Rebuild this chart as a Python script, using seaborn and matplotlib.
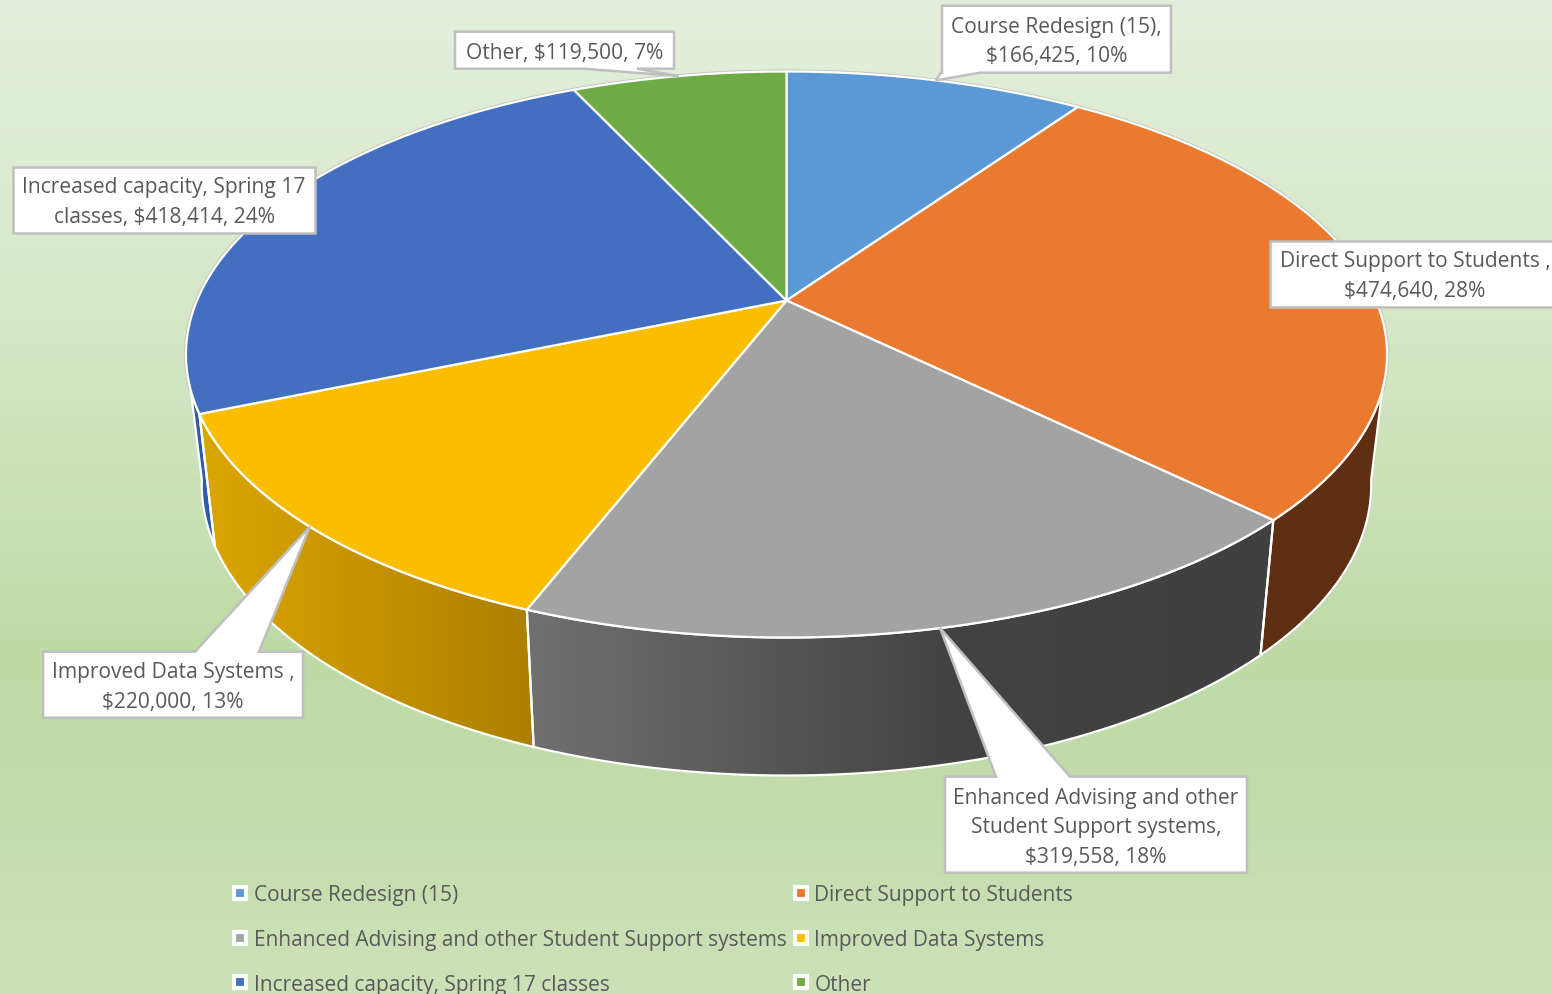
import numpy as np
import pandas as pd
import matplotlib
matplotlib.use("Agg")
import matplotlib.pyplot as plt
import seaborn as sns
from matplotlib.colors import to_rgb
from matplotlib.lines import Line2D
from matplotlib.patches import Polygon

categories = ["Course Redesign (15)", "Direct Support to Students",
              "Enhanced Advising and other Student Support systems",
              "Improved Data Systems", "Increased capacity, Spring 17 classes", "Other"]
amounts = [166425, 474640, 319558, 220000, 418414, 119500]
percents = [10, 28, 18, 13, 24, 7]
slice_colors = ["#5a98d6", "#ea7a2f", "#a3a3a3", "#fbbd00", "#426fc0", "#6eab45"]
label_texts = ["Course Redesign (15),\n$166,425, 10%",
               "Direct Support to Students ,\n$474,640, 28%",
               "Enhanced Advising and other\nStudent Support systems,\n$319,558, 18%",
               "Improved Data Systems ,\n$220,000, 13%",
               "Increased capacity, Spring 17\nclasses, $418,414, 24%",
               "Other, $119,500, 7%"]

# box x0, y0, x1, y1 in pixels, then the foot of the callout on the box edge
label_boxes = [(942, 6.7, 1171, 73.7), (1270, 241.7, 1560, 307.7), (945, 777.7, 1247, 873.7),
               (43, 652.7, 303, 718.7), (13, 167.7, 315, 233.7), (455, 32.7, 674, 69.7)]
label_feet = [(941, 980), None, (996, 1070), (195, 259), None, (584, 637)]

# perspective of the pie disc, fitted to the picture
CX, PERSP = 786.5, 0.1908
TOP = (589.5, 272.7, 301.5)
BOTTOM = (574, 280, 430.5)
# side wall colours from left to right: x stops, colours
wall_stops = {
    1: ([1250, 1390], ["#5e2f11", "#5e2f11"]),
    2: ([528, 950, 1270], ["#707070", "#434343", "#404040"]),
    3: ([200, 535], ["#dca600", "#ad7f00"]),
    4: ([185, 215], ["#2f5ba8", "#2f5ba8"]),
}
bg_y = [0, 250, 450, 650, 800, 995]
bg_colors = ["#e4efdb", "#d9e9cc", "#cde3bb", "#bedba6", "#c2dcab", "#cde1b9"]


def rim(angles, a, b, y0):
    t = np.radians(angles)
    d = 1 + PERSP * np.cos(t)
    return CX + a * np.sin(t) / d, y0 - b * np.cos(t) / d


def ramp(xs, stops, colors):
    rgb = np.array([to_rgb(c) for c in colors])
    return np.stack([np.interp(xs, stops, rgb[:, i]) for i in range(3)], axis=-1)


sns.set_theme(style="white")
plt.rcParams["font.family"] = ["Open Sans", "DejaVu Sans"]
palette = sns.color_palette(slice_colors)

df = pd.DataFrame({"category": categories, "amount": amounts, "percent": percents})
df["end"] = df["amount"].cumsum() / df["amount"].sum() * 360
df["start"] = df["end"].shift(fill_value=0)
df["mid"] = (df["start"] + df["end"]) / 2

fig = plt.figure(figsize=(15.52, 9.95), dpi=100)
ax = fig.add_axes([0, 0, 1, 1])
ax.axis("off")

# background
ys = np.arange(995)
ax.imshow(ramp(ys, bg_y, bg_colors)[:, None, :], extent=(0, 1552, 995, 0), aspect="auto", zorder=0)

# side walls, only the front part shows
for i, row in df.iterrows():
    if i not in wall_stops:
        continue
    top_a = np.linspace(max(row["start"], 108), min(row["end"], 252), 80)
    bot_a = np.linspace(max(row["start"], 100), min(row["end"], 260), 80)
    tx, ty = rim(top_a, *TOP)
    bx, by = rim(bot_a, *BOTTOM)
    pts = np.vstack([np.c_[tx, ty], np.c_[bx, by][::-1]])
    x0, x1 = pts[:, 0].min(), pts[:, 0].max()
    y0, y1 = pts[:, 1].min(), pts[:, 1].max()
    xs = np.linspace(x0, x1, 300)
    im = ax.imshow(ramp(xs, *wall_stops[i])[None, :, :], extent=(x0, x1, y1, y0), aspect="auto", zorder=2)
    im.set_clip_path(Polygon(pts, closed=True, transform=ax.transData))
    ax.add_patch(Polygon(pts, closed=True, fill=False, ec="white", lw=1.6, zorder=3))

# thin grey rim behind the top face
rx, ry = rim(np.linspace(-108, 108, 300), *TOP)
ax.plot(rx, ry, color="#c4c8c0", lw=3, zorder=1)
bx, by = rim(np.linspace(100, 134, 30), *BOTTOM)
ax.plot(bx, by, color="#c4c8c0", lw=2.5, zorder=1)

# top face
for i, row in df.iterrows():
    arc = np.linspace(row["start"], row["end"], 200)
    tx, ty = rim(arc, *TOP)
    pts = np.vstack([[CX, TOP[2]], np.c_[tx, ty]])
    ax.add_patch(Polygon(pts, closed=True, fc=palette[i], ec="white", lw=1.6, zorder=4))

# data labels with callouts
for i, row in df.iterrows():
    x0, y0, x1, y1 = label_boxes[i]
    foot = label_feet[i]
    if foot is None:
        pts = [(x0, y0), (x1, y0), (x1, y1), (x0, y1)]
    else:
        tip_x, tip_y = rim(row["mid"], *TOP)
        tip = (float(tip_x), float(tip_y))
        if tip_y > y1:
            pts = [(x0, y0), (x1, y0), (x1, y1), (foot[1], y1), tip, (foot[0], y1), (x0, y1)]
        else:
            pts = [(x0, y0), (foot[0], y0), tip, (foot[1], y0), (x1, y0), (x1, y1), (x0, y1)]
    ax.add_patch(Polygon(pts, closed=True, fc="white", ec="#bfbfbf", lw=1.8, zorder=6))
    ax.text((x0 + x1) / 2, (y0 + y1) / 2 + 2, label_texts[i], ha="center", va="center",
            fontsize=15.1, color="#595959", linespacing=1.53, zorder=7)

# legend, filled column by column
order = [0, 2, 4, 1, 3, 5]
handles = [Line2D([], [], ls="", marker="s", ms=8.5, mfc=palette[i], mec="white", mew=3) for i in order]
ax.legend(handles, [categories[i] for i in order], ncol=2, loc="upper left",
          bbox_to_anchor=(230, 885), bbox_transform=ax.transData, frameon=False,
          fontsize=15.05, labelcolor="#595959", borderpad=0, borderaxespad=0,
          handlelength=1.0, handletextpad=0.15, columnspacing=0.16, labelspacing=1.14)

ax.set_xlim(0, 1552)
ax.set_ylim(995, 0)
fig.savefig("out.png", dpi=100)
